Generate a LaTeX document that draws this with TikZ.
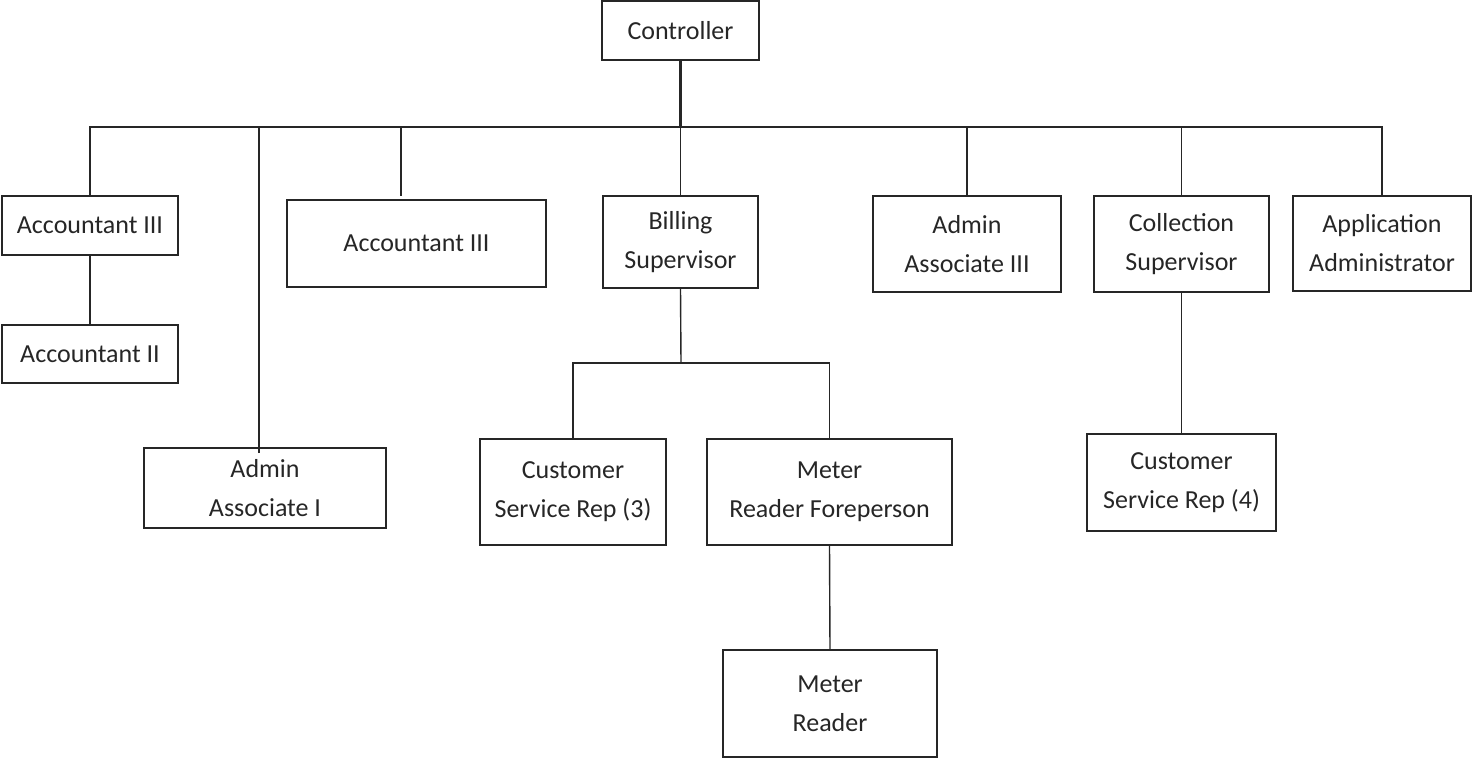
\documentclass[tikz,border=0pt]{standalone}
\usepackage{fontspec}
\setmainfont{Carlito}

\begin{document}
\begin{tikzpicture}[x=0.5pt,y=-0.5pt,line width=0.7pt,draw=black!85]
    \tikzstyle{post}=[draw,rectangle,inner sep=0pt,align=center,text=black!85,
        font=\fontsize{13}{19.5}\selectfont]
    \tikzstyle{heavy post}=[post, line width=1.2pt]
    \tikzstyle{heavy}=[line width=1.2pt]

    \useasboundingbox (0,0) rectangle (1473,759);

    % Draw the top node
    \node[post, minimum width=78.5pt, minimum height=29.5pt] (Ctrl) at (680.5,30.5) {Controller};

    % Draw the second row
    \node[post, minimum width=88pt, minimum height=29.5pt] (Acc-1) at (90,225.5) {Accountant III};
    \node[heavy post, minimum width=129.5pt, minimum height=43.5pt] (Acc-3) at (416.5,243.5) {Accountant III};
    \node[post, minimum width=77.5pt, minimum height=46pt] (Bill) at (680.5,242) {Billing\\Supervisor};
    \node[post, minimum width=94pt, minimum height=48pt] (Adm-3) at (967,244) {Admin\\Associate III};
    \node[post, minimum width=87.5pt, minimum height=48pt] (Coll) at (1181.5,244) {Collection\\Supervisor};
    \node[post, minimum width=89pt, minimum height=47.5pt] (App) at (1382,243.5) {Application\\Administrator};

    % Draw the lower rows
    \node[post, minimum width=88pt, minimum height=29pt] (Acc-2) at (90,354) {Accountant II};
    \node[heavy post, minimum width=121pt, minimum height=40pt] (Adm-1) at (265,488) {Admin\\Associate I};
    \node[post, minimum width=93pt, minimum height=53pt] (Csr-1) at (573,492) {Customer\\Service Rep (3)};
    \node[post, minimum width=122.5pt, minimum height=53pt] (Mrf) at (829.5,492) {Meter\\Reader Foreperson};
    \node[post, minimum width=107pt, minimum height=53.5pt] (Mr) at (830,703.5) {Meter\\Reader};
    \node[post, minimum width=94.5pt, minimum height=48.5pt] (Csr-2) at (1181.5,482.5) {Customer\\Service Rep (4)};

    % Junctions
    \coordinate (Bus) at (681,127);
    \coordinate (Sub) at (681,363);
    \coordinate (t-1) at (259,453);
    \coordinate (t-3) at (401,196);

    % Controller down to the bus
    \draw[heavy] (Ctrl.south) -- (Ctrl.south |- Bus);

    % The bus, with its outer drops
    \draw (Acc-1.north) |- (App.north |- Bus) -- (App.north);
    \draw[heavy] (t-3 |- Bus) -- (Coll.north |- Bus);
    \draw (t-1) -- (t-1 |- Bus);
    \draw (t-3) -- (t-3 |- Bus);
    \foreach \dest in {Bill,Adm-3,Coll}
        \draw (\dest.north) -- (\dest.north |- Bus);

    % Reports below the second row
    \draw (Acc-1.south) -- (Acc-2.north);
    \draw (Bill.south) -- (Sub);
    \draw (Csr-1.north) |- (Sub) -| (Mrf.north);
    \draw (Mrf.south) -- (Mr.north);
    \draw (Coll.south) -- (Csr-2.north);
\end{tikzpicture}
\end{document}
